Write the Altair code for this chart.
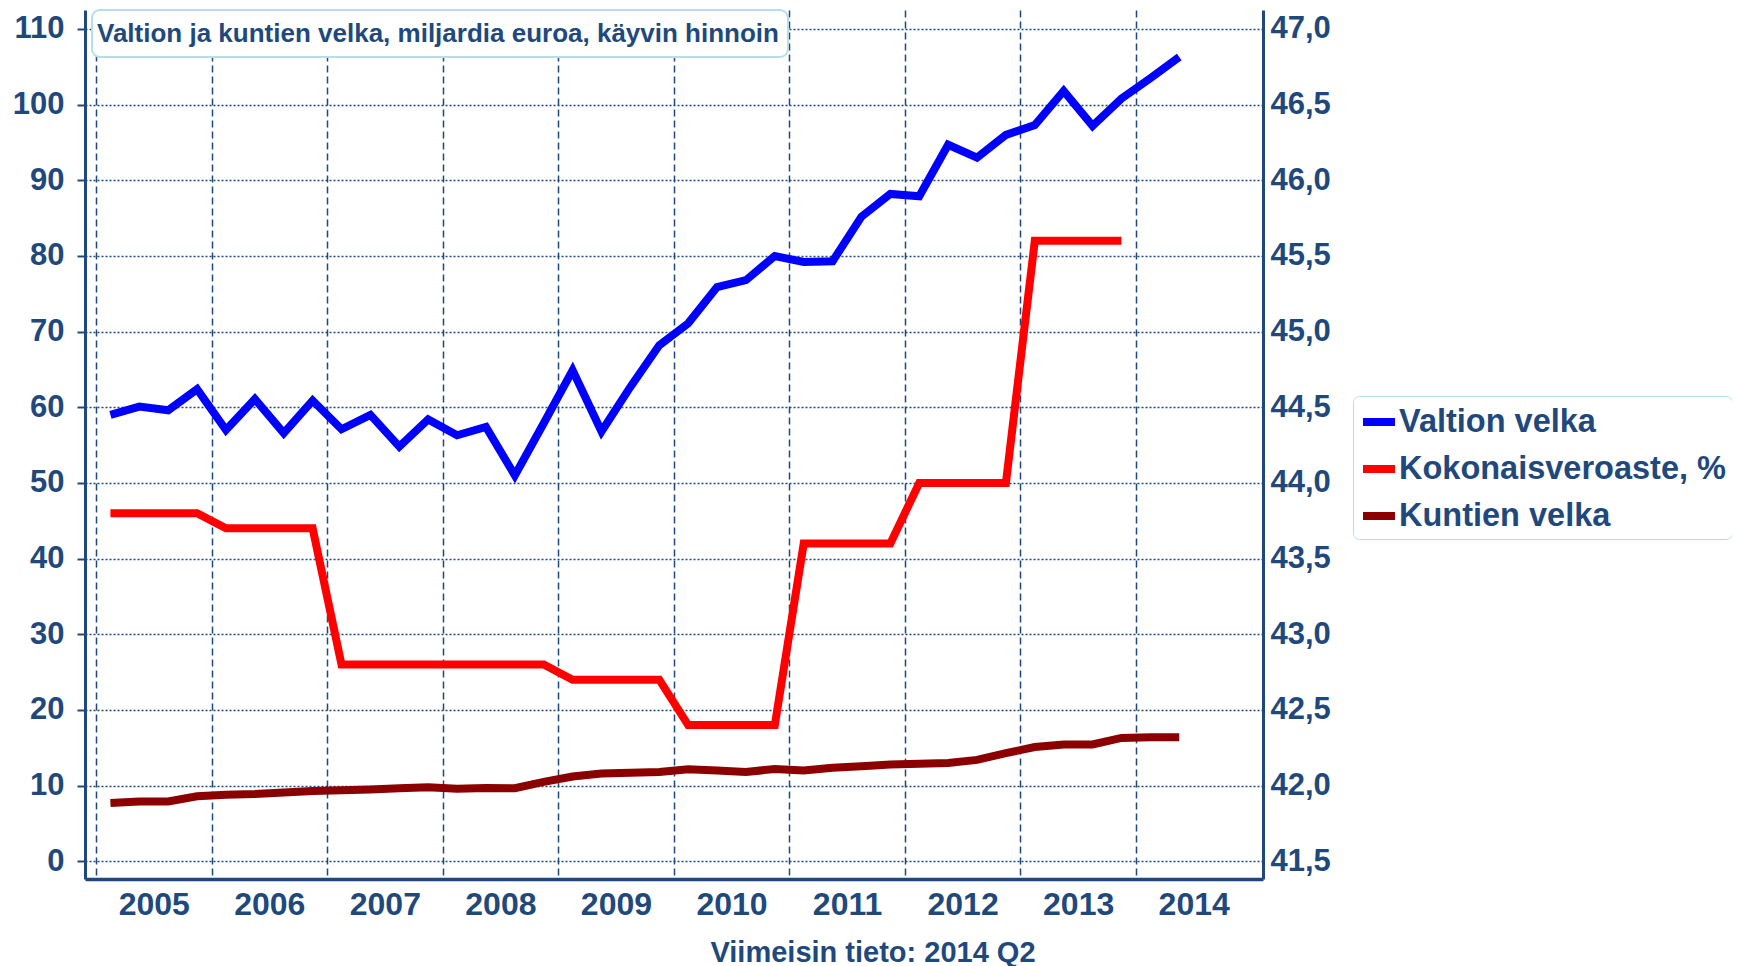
import altair as alt
import pandas as pd

# ---------------- data ----------------
years = [2005, 2006, 2007, 2008, 2009, 2010, 2011, 2012, 2013, 2014]
quarter_nums = [1, 2, 3, 4]

valtion_velka = [59.0, 60.1, 59.6, 62.4,
                 57.0, 61.1, 56.6, 60.9,
                 57.1, 59.0, 54.8, 58.4,
                 56.3, 57.4, 51.0, 57.9,
                 64.9, 56.8, 62.7, 68.2,
                 71.1, 75.9, 76.8, 80.0,
                 79.2, 79.3, 85.2, 88.2,
                 87.9, 94.7, 93.0, 96.0,
                 97.3, 101.8, 97.2, 100.8,
                 103.5, 106.3]

kuntien_velka = [7.7, 7.9, 7.9, 8.6,
                 8.8, 8.9, 9.1, 9.3,
                 9.4, 9.5, 9.65, 9.8,
                 9.6, 9.7, 9.65, 10.5,
                 11.2, 11.6, 11.7, 11.8,
                 12.15, 12.0, 11.8, 12.2,
                 12.0, 12.35, 12.55, 12.8,
                 12.9, 13.0, 13.4, 14.3,
                 15.1, 15.45, 15.45, 16.3,
                 16.4, 16.4]

kokonaisveroaste = [43.8, 43.8, 43.8, 43.8,
                    43.7, 43.7, 43.7, 43.7,
                    42.8, 42.8, 42.8, 42.8,
                    42.8, 42.8, 42.8, 42.8,
                    42.7, 42.7, 42.7, 42.7,
                    42.4, 42.4, 42.4, 42.4,
                    43.6, 43.6, 43.6, 43.6,
                    44.0, 44.0, 44.0, 44.0,
                    45.6, 45.6, 45.6, 45.6]

series_names = ["Valtion velka", "Kokonaisveroaste, %", "Kuntien velka"]
series_colors = ["#0000FF", "#FF0000", "#8B0000"]

left_ticks = [0, 10, 20, 30, 40, 50, 60, 70, 80, 90, 100, 110]
right_ticks = [41.5, 42.0, 42.5, 43.0, 43.5, 44.0, 44.5, 45.0, 45.5, 46.0, 46.5, 47.0]

title_text = "Valtion ja kuntien velka, miljardia euroa, käyvin hinnoin"
footer_text = "Viimeisin tieto: 2014 Q2"

# ---------------- tables ----------------
qpos = [y + (q - 0.5) / 4 for y in years for q in quarter_nums]
qlab = [f"{y} Q{q}" for y in years for q in quarter_nums]

rows = []
for i, v in enumerate(valtion_velka):
    rows.append({"x": qpos[i], "q": qlab[i], "value": v, "series": series_names[0]})
for i, v in enumerate(kuntien_velka):
    rows.append({"x": qpos[i], "q": qlab[i], "value": v, "series": series_names[2]})
df_left = pd.DataFrame(rows)
df_right = pd.DataFrame({"x": qpos[:len(kokonaisveroaste)],
                         "q": qlab[:len(kokonaisveroaste)],
                         "value": kokonaisveroaste,
                         "series": series_names[1]})
dummy = pd.DataFrame({"a": [0]})

# ---------------- styles ----------------
TXT = "#1F497D"
FONT = "Liberation Sans"
W, H = 1178, 869

x_scale = alt.Scale(domain=[2004.905, 2015.1], nice=False, zero=False)
left_scale = alt.Scale(domain=[-2.34, 112.51], nice=False, zero=False)
right_scale = alt.Scale(domain=[41.383, 47.1255], nice=False, zero=False)
color_scale = alt.Scale(domain=series_names, range=series_colors)

x_axis = alt.Axis(values=years, format="d", title=None, grid=True,
                  gridDash=[7, 4], gridColor=TXT, gridWidth=1.5, gridOpacity=1,
                  ticks=False, labelOffset=57.8, labelPadding=10,
                  labelFontSize=32, labelFont=FONT, labelFontWeight="bold",
                  labelColor=TXT, domainColor=TXT, domainWidth=3.5,
                  labelOverlap=False)

left_axis = alt.Axis(values=left_ticks, format="d", title=None, orient="left",
                     grid=True, gridDash=[2, 2], gridColor=TXT, gridWidth=1.5,
                     gridOpacity=1, ticks=True, tickSize=8, tickWidth=2,
                     tickColor=TXT, labelPadding=13, labelFontSize=31,
                     labelFont=FONT, labelFontWeight="bold", labelColor=TXT,
                     domainColor=TXT, domainWidth=3, labelOverlap=False)

right_axis = alt.Axis(values=right_ticks, title=None, orient="right", grid=False,
                      ticks=False, labelPadding=7, labelFontSize=31,
                      labelFont=FONT, labelFontWeight="bold", labelColor=TXT,
                      domainColor=TXT, domainWidth=3, labelOverlap=False,
                      labelExpr="replace(format(datum.value, '.1f'), '.', ',')")

legend = alt.Legend(orient="none", legendX=1268, legendY=386, title=None,
                    symbolType="stroke", symbolStrokeWidth=8, symbolSize=1024,
                    labelFontSize=32.5, labelFont=FONT, labelFontWeight="bold",
                    labelColor=TXT, rowPadding=10, padding=6,
                    strokeColor="#B7DDE8", fillColor="white", cornerRadius=6,
                    labelLimit=600, labelOffset=0)

left_lines = alt.Chart(df_left).mark_line(strokeWidth=8).encode(
    x=alt.X("x:Q", scale=x_scale, axis=x_axis),
    y=alt.Y("value:Q", scale=left_scale, axis=left_axis),
    color=alt.Color("series:N", scale=color_scale, legend=legend),
)

right_line = alt.Chart(df_right).mark_line(strokeWidth=8).encode(
    x=alt.X("x:Q", scale=x_scale, axis=x_axis),
    y=alt.Y("value:Q", scale=right_scale, axis=right_axis),
    color=alt.Color("series:N", scale=color_scale, legend=legend),
)

box = alt.Chart(dummy).mark_rect(fill="white", stroke="#B7DDE8", strokeWidth=2,
                                 cornerRadius=8).encode(
    x=alt.value(7), x2=alt.value(703), y=alt.value(0), y2=alt.value(47))

title_mark = alt.Chart(dummy).mark_text(text=title_text, align="left",
                                        baseline="alphabetic", fontSize=26,
                                        fontWeight="bold", font=FONT,
                                        color=TXT).encode(
    x=alt.value(12), y=alt.value(32))

footer_mark = alt.Chart(dummy).mark_text(text=footer_text, align="center",
                                         baseline="alphabetic", fontSize=29,
                                         fontWeight="bold", font=FONT,
                                         color=TXT).encode(
    x=alt.value(788), y=alt.value(952))

chart = alt.layer(left_lines, right_line, box, title_mark, footer_mark).resolve_scale(
    y="independent"
).properties(
    width=W, height=H,
    autosize=alt.AutoSizeParams(type="none"),
    padding={"left": 77, "top": 2, "right": 469, "bottom": 90},
).configure_view(stroke=None)

chart.save("out.html", embed_options={"renderer": "svg", "actions": False})
